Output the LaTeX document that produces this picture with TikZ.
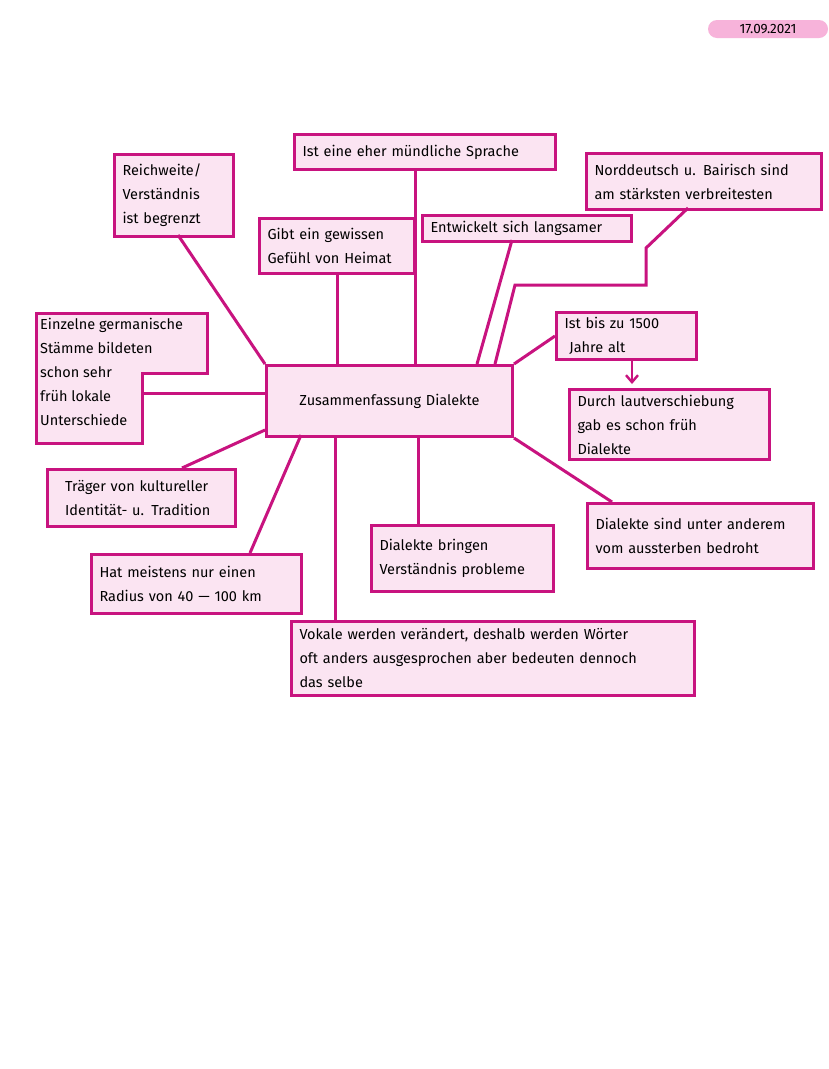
\documentclass[tikz,border=0pt]{standalone}
\usepackage{fontspec}
\setmainfont{Fira Sans}
\usetikzlibrary{arrows.meta,calc}
\definecolor{mag}{HTML}{C8137F}
\definecolor{pk}{HTML}{FBE4F2}
\definecolor{pill}{HTML}{F7B3DA}
\tikzset{bx/.style={draw=mag,fill=pk,line width=3pt,anchor=north west,inner xsep=8pt,inner ysep=0pt,align=left,font=\fontsize{14.5}{24}\selectfont},
 ln/.style={draw=mag,line width=3pt}}
\newcommand{\bx}[7][left]{\pgfmathsetmacro\ww{#5-#3}\pgfmathsetmacro\hh{#6-#4}\pgfmathsetmacro\tw{#5-#3-16}
 \node[bx,align=#1,minimum width=\ww pt,minimum height=\hh pt,text width=\tw pt] (#2) at (#3,#4) {#7};}
\begin{document}
\begin{tikzpicture}[x=1pt,y=-1pt]
\useasboundingbox[fill=white] (0,0) rectangle (828,1069);
\node[fill=pill,rounded corners=9pt,minimum width=120pt,minimum height=18pt,inner sep=0pt,font=\fontsize{13.5}{14}\selectfont] (date) at (768,29) {17.09.2021};
\coordinate (n1) at (646,248); \coordinate (n2) at (646,285); \coordinate (n3) at (515,285);
\bx[center]{c}{265}{364}{511}{435}{Zusammenfassung Dialekte}
\bx{r}{113}{153}{232}{235}{Reichweite/\\Verständnis\\ist begrenzt}
\bx{m}{293}{133}{554}{168}{Ist eine eher mündliche Sprache}
\bx{nd}{585}{152}{820}{208}{Norddeutsch u. Bairisch sind\\am stärksten verbreitesten}
\bx{g}{258}{217}{413}{272}{Gibt ein gewissen\\Gefühl von Heimat}
\bx{e}{421}{214}{630}{240}{Entwickelt sich langsamer}
\bx{ib}{555}{311}{695}{358}{Ist bis zu 1500\\\ Jahre alt}
\bx{d}{568}{388}{768}{458}{Durch lautverschiebung\\gab es schon früh\\Dialekte}
\bx{t}{46}{468}{234}{525}{\ \ Träger von kultureller\\\ \ Identität- u. Tradition}
\bx{ds}{586}{502}{812}{567}{Dialekte sind unter anderem\\vom aussterben bedroht}
\bx{db}{370}{524}{552}{590}{Dialekte bringen\\Verständnis probleme}
\bx{h}{90}{553}{300}{612}{Hat meistens nur einen\\Radius von 40 — 100 km}
\bx{v}{290}{620}{693}{694}{Vokale werden verändert, deshalb werden Wörter\\oft anders ausgesprochen aber bedeuten dennoch\\das selbe}
\draw[ln,fill=pk,line join=miter] (36,313) -- (207,313) -- (207,373) -- (142,373) -- (142,443) -- (36,443) -- cycle;
\node[anchor=north west,inner sep=0pt,align=left,font=\fontsize{14.5}{24}\selectfont] (ez) at (40,318) {Einzelne germanische\\Stämme bildeten\\schon sehr\\früh lokale\\Unterschiede};
\draw[ln] (142,393) -- (c.west|-142,393);
\draw[ln] (178,235) -- (c.north west);
\draw[ln] (g.south) -- (g.south|-c.north);
\draw[ln] (415,168) -- (415,364);
\draw[ln] (512,240) -- (477,364);
\draw[ln,line join=miter] (688,208) -- (n1) -- (n2) -- (n3) -- (495,364);
\draw[ln] (ib.west) -- (c.north east);
\draw[draw=mag,line width=2.4pt,-{Straight Barb[length=7pt,width=12pt]}] (632,358) -- (632,384);
\draw[ln] (265,430) -- (182,468);
\draw[ln] (301,435) -- (250,553);
\draw[ln] (335,435) -- (335,620);
\draw[ln] (418,435) -- (db.north-|418,0);
\draw[ln] (c.south east) -- (612,502);
\end{tikzpicture}
\end{document}
